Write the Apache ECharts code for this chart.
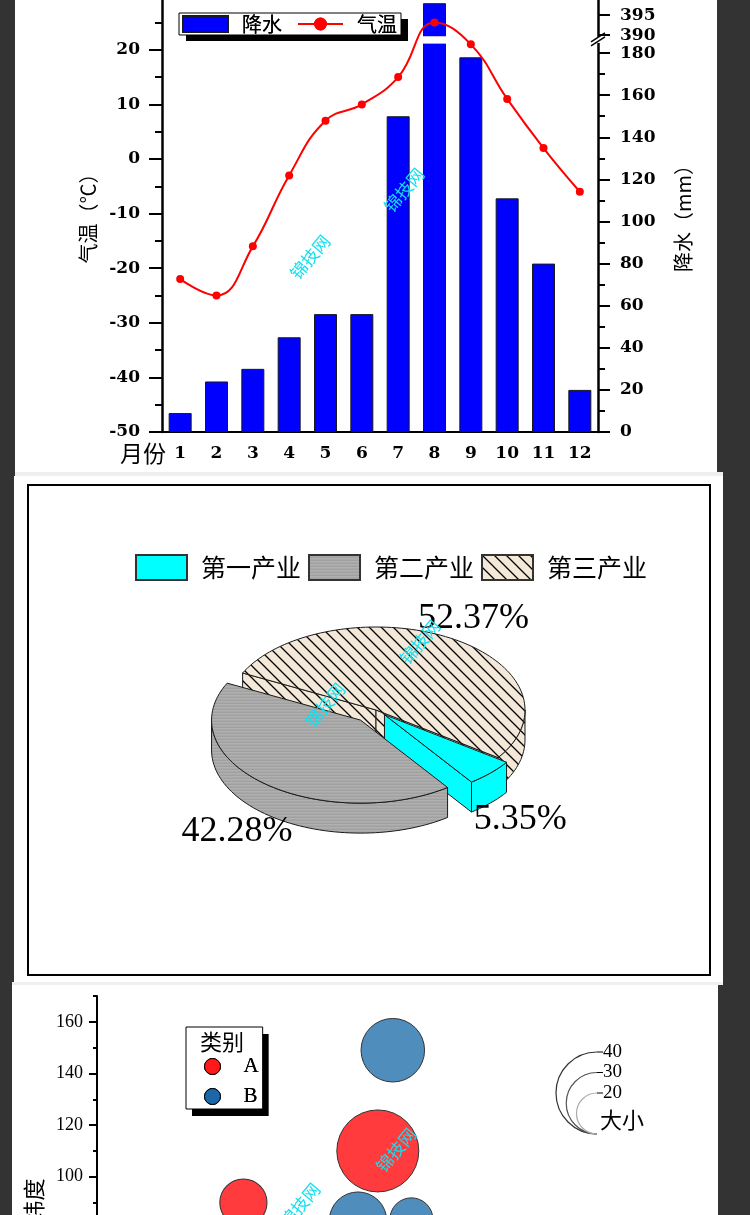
<!DOCTYPE html>
<html>
<head>
<meta charset="utf-8">
<script src="https://cdn.jsdelivr.net/npm/echarts@6/dist/echarts.min.js"></script>
<style>
  html, body { margin: 0; padding: 0; }
  body { width: 750px; height: 1215px; background: #333; position: relative; overflow: hidden; }
  .panel { position: absolute; background: #fff; overflow: hidden; }
  .strip { position: absolute; background: #efefef; }
</style>
</head>
<body>
<div class="panel" style="left:15px;top:0;width:702px;height:472px">
  <div id="climate" style="position:absolute;left:0;top:-30px;width:702px;height:502px"></div>
</div>
<div class="strip" style="left:15px;top:472px;width:708px;height:4px"></div>
<div class="panel" style="left:14px;top:476px;width:709px;height:506px">
  <div id="industry" style="width:709px;height:506px"></div>
</div>
<div class="strip" style="left:12px;top:982px;width:711px;height:3px"></div>
<div class="panel" style="left:12px;top:985px;width:706px;height:230px">
  <div id="bubble" style="width:706px;height:230px"></div>
</div>
<script>
// ---- data ----
const months = ['1', '2', '3', '4', '5', '6', '7', '8', '9', '10', '11', '12'];
const precipitation = [9, 24, 30, 45, 56, 56, 150, 398, 178, 111, 80, 20];
const temperature = [-22, -25, -16, -3, 7, 10, 15, 25, 21, 11, 2, -6];
const precipTicksLow = [0, 20, 40, 60, 80, 100, 120, 140, 160, 180];
const precipTicksHigh = [390, 395, 400];

const industries = ['第一产业', '第二产业', '第三产业'];
const industryShare = [5.35, 42.28, 52.37];

const bubbleA = [[24.4, 90, 23], [46.8, 110, 40]];
const bubbleB = [[49.3, 149, 31], [43.5, 83, 28], [52.4, 83.5, 21]];
const sizeLegendValues = [40, 30, 20];
const latTicks = [0, 20, 40, 60, 80, 100, 120, 140, 160];

const CN = '"Noto Sans CJK SC", sans-serif';
const SERIF = '"Liberation Serif", serif';
const SERIF_B = '"DejaVu Serif", serif';

function watermark(x, y) {
  return {
    type: 'text', x: x, y: y, rotation: 50 * Math.PI / 180, z: 100,
    style: { text: '锦技网', font: '17px "Noto Sans CJK SC"', fill: '#10e0f0',
      align: 'center', verticalAlign: 'middle', textAlign: 'center', textVerticalAlign: 'middle' }
  };
}

// a legend box with a hard black shadow: one legend casts the shadow, a twin draws the border
function shadowedLegend(base, dx, dy) {
  return [
    Object.assign({}, base, { backgroundColor: '#fff', borderWidth: 0, shadowColor: '#000', shadowBlur: 0, shadowOffsetX: dx, shadowOffsetY: dy }),
    Object.assign({}, base, { backgroundColor: 'transparent', borderColor: '#000', borderWidth: 1 })
  ];
}

// ---- chart 1: climate ----
// broken right axis: values above the break are squeezed into a short segment
const BREAK_LOW = 180, BREAK_HIGH = 390, HIGH_BASE = 188.5, HIGH_SCALE = 1.9;
function toDisplay(v) { return v <= BREAK_LOW ? v : HIGH_BASE + (v - BREAK_HIGH) * HIGH_SCALE; }
function fromDisplay(d) { return d <= BREAK_LOW + 0.01 ? Math.round(d) : Math.round(BREAK_HIGH + (d - HIGH_BASE) / HIGH_SCALE); }
const precipMax = toDisplay(400);
const precipMajor = precipTicksLow.concat(precipTicksHigh).map(toDisplay);
const precipMinor = precipTicksLow.slice(1).map(v => v - 10);

const tickStyle = { color: '#000', width: 2 };
const boldLabel = { fontFamily: SERIF_B, fontWeight: 'bold', fontSize: 17, color: '#000' };

const climate = echarts.init(document.getElementById('climate'));
climate.setOption({
  animation: false,
  grid: { left: 147, right: 119, top: 25.2, bottom: 40, outerBoundsMode: 'none' },
  legend: shadowedLegend({
    data: [{ name: '降水', icon: 'rect' }, { name: '气温' }], left: 164, top: 43, itemWidth: 45, itemHeight: 16, itemGap: 15,
    padding: [1, 4, 1, 3],
    textStyle: { fontFamily: CN, fontSize: 20, color: '#000', padding: [0, 0, 0, 9] }
  }, 7, 6),
  xAxis: [
    {
      type: 'category', data: months, position: 'bottom',
      name: '月份', nameLocation: 'start', nameGap: -4, nameMoveOverlap: false,
      nameTextStyle: { fontFamily: CN, fontSize: 23, color: '#000', verticalAlign: 'top', padding: [10, 0, 0, 0] },
      axisLine: { onZero: false, lineStyle: { color: '#000', width: 2 } },
      axisTick: { alignWithLabel: true, length: 8, lineStyle: tickStyle },
      axisLabel: Object.assign({ margin: 13 }, boldLabel)
    },
    {
      type: 'category', data: months, position: 'bottom',
      axisLine: { show: false, onZero: false }, axisTick: { length: 4, lineStyle: tickStyle }, axisLabel: { show: false }
    }
  ],
  yAxis: [
    {
      type: 'value', min: -50, max: 30, interval: 10, position: 'left',
      name: '气温（℃）', nameLocation: 'middle', nameGap: 62, nameRotate: 90,
      nameTextStyle: { fontFamily: CN, fontSize: 20, color: '#000' },
      axisLine: { show: true, lineStyle: { color: '#000', width: 2.5 } },
      axisTick: { show: true, length: 13, lineStyle: tickStyle },
      minorTick: { show: true, splitNumber: 2, length: 7, lineStyle: tickStyle },
      axisLabel: Object.assign({ margin: 22 }, boldLabel),
      splitLine: { show: false }
    },
    {
      type: 'value', min: 0, max: precipMax, position: 'right',
      name: '降水（mm）', nameLocation: 'middle', nameGap: 75, nameRotate: 90,
      nameTextStyle: { fontFamily: CN, fontSize: 20, color: '#000' },
      axisLine: { show: true, lineStyle: { color: '#000', width: 2.5 } },
      axisTick: { show: true, customValues: precipMajor, length: 12, lineStyle: tickStyle },
      axisLabel: Object.assign({ margin: 22, customValues: precipMajor, formatter: v => String(fromDisplay(v)) }, boldLabel),
      splitLine: { show: false }
    },
    {
      type: 'value', min: 0, max: precipMax, position: 'right',
      axisLine: { show: false },
      axisTick: { show: true, customValues: precipMinor, length: 7, lineStyle: tickStyle },
      axisLabel: { show: false }, splitLine: { show: false }
    }
  ],
  series: [
    {
      name: '降水', type: 'bar', xAxisIndex: 0, yAxisIndex: 1, barWidth: 23, z: 2,
      data: precipitation.map(toDisplay),
      itemStyle: { color: '#0000ff', borderColor: '#1a1a1a', borderWidth: 1 }
    },
    {
      name: '气温', type: 'line', xAxisIndex: 0, yAxisIndex: 0, z: 5,
      data: temperature, smooth: 0.45, symbol: 'circle', symbolSize: 8,
      lineStyle: { color: '#ff0000', width: 2 }, itemStyle: { color: '#ff0000' }
    }
  ]
});

// break decorations from the axis scale
const axisRightX = 702 - 119;
const yGapTop = climate.convertToPixel({ yAxisIndex: 1 }, HIGH_BASE - 0.5);
const yGapBot = climate.convertToPixel({ yAxisIndex: 1 }, BREAK_LOW + 4.5);
const yMid = (yGapTop + yGapBot) / 2;
const climateGraphics = [watermark(295, 287), watermark(389, 220)];
precipitation.forEach((v, i) => {
  if (v > BREAK_HIGH) {
    const xc = climate.convertToPixel({ xAxisIndex: 0 }, months[i]);
    climateGraphics.push({ type: 'rect', z: 3, shape: { x: xc - 13, y: yGapTop, width: 26, height: yGapBot - yGapTop }, style: { fill: '#fff' } });
  }
});
climateGraphics.push(
  { type: 'rect', z: 10, shape: { x: axisRightX - 3, y: yMid - 3, width: 6, height: 6 }, style: { fill: '#fff' } },
  { type: 'line', z: 11, shape: { x1: axisRightX - 7, y1: yMid + 6, x2: axisRightX + 7, y2: yMid - 3 }, style: { stroke: '#000', lineWidth: 1.5 } },
  { type: 'line', z: 11, shape: { x1: axisRightX - 7, y1: yMid + 2, x2: axisRightX + 7, y2: yMid - 7 }, style: { stroke: '#000', lineWidth: 1.5 } }
);
climate.setOption({ graphic: { elements: climateGraphics } });

// ---- chart 2: industry 3D pie ----
function hatchPattern() {
  const s = 12, c = document.createElement('canvas');
  c.width = s; c.height = s;
  const g = c.getContext('2d');
  g.fillStyle = '#f4e9d8'; g.fillRect(0, 0, s, s);
  g.strokeStyle = '#000'; g.lineWidth = 1.3;
  g.beginPath();
  g.moveTo(-2, -2); g.lineTo(s + 2, s + 2);
  g.moveTo(-2, s - 2); g.lineTo(2, s + 2);
  g.moveTo(s - 2, -2); g.lineTo(s + 2, 2);
  g.stroke();
  return { image: c, repeat: 'repeat' };
}
function grayPattern() {
  const c = document.createElement('canvas');
  c.width = 4; c.height = 3;
  const g = c.getContext('2d');
  ['#b0b0b0', '#a8a8a8', '#a0a0a0'].forEach((col, r) => { g.fillStyle = col; g.fillRect(0, r, 4, 1); });
  return { image: c, repeat: 'repeat' };
}
const pieFills = ['#00ffff', grayPattern(), hatchPattern()];
const PIE = { cx: 362, cy: 234, rx: 149, ry: 83, depth: 30, startAngle: -35, explode: [0.08, 0.16, 0], labelK: 1.28 };

const shareTotal = industryShare.reduce((a, b) => a + b, 0);
let acc = 0;
const slices = industryShare.map(v => {
  const a0 = PIE.startAngle - acc / shareTotal * 360;
  acc += v;
  return { a0: a0, a1: PIE.startAngle - acc / shareTotal * 360 };
});
const rad = a => a * Math.PI / 180;

function renderSlice(i) {
  const s = slices[i];
  const mid = rad((s.a0 + s.a1) / 2);
  const ex = PIE.explode[i];
  const cx = PIE.cx + ex * PIE.rx * Math.cos(mid);
  const cy = PIE.cy - ex * PIE.ry * Math.sin(mid);
  const pt = (a, dy) => [cx + PIE.rx * Math.cos(rad(a)), cy - PIE.ry * Math.sin(rad(a)) + dy];
  const arc = (from, to, dy) => {
    const n = Math.max(2, Math.ceil(Math.abs(to - from) / 2));
    const out = [];
    for (let k = 0; k <= n; k++) out.push(pt(from + (to - from) * k / n, dy));
    return out;
  };
  const st = () => ({ fill: pieFills[i], stroke: '#1a1a1a', lineWidth: 1 });
  const face = a => ({ type: 'polygon', shape: { points: [[cx, cy], pt(a, 0), pt(a, PIE.depth), [cx, cy + PIE.depth]] }, style: st() });
  const children = [];
  if (Math.cos(rad(s.a0)) < 0) children.push(face(s.a0));
  if (Math.cos(rad(s.a1)) > 0) children.push(face(s.a1));
  for (let k = -2; k <= 1; k++) {
    const lo = Math.max(s.a1, -180 + 360 * k), hi = Math.min(s.a0, 360 * k);
    if (lo < hi) children.push({ type: 'polygon', shape: { points: arc(lo, hi, 0).concat(arc(hi, lo, PIE.depth)) }, style: st() });
  }
  children.push({ type: 'polygon', shape: { points: [[cx, cy]].concat(arc(s.a1, s.a0, 0)) }, style: st() });
  const dy = Math.sin(mid) < 0 ? PIE.depth : 0;
  children.push({
    type: 'text',
    style: {
      text: industryShare[i].toFixed(2) + '%',
      x: cx + PIE.labelK * PIE.rx * Math.cos(mid), y: cy - PIE.labelK * PIE.ry * Math.sin(mid) + dy,
      font: '36px "Liberation Serif"', fill: '#000',
      align: 'center', verticalAlign: 'middle', textAlign: 'center', textVerticalAlign: 'middle'
    }
  });
  return { type: 'group', children: children };
}

// draw back slices first
const drawOrder = industryShare.map((v, i) => i)
  .sort((a, b) => Math.sin(rad((slices[b].a0 + slices[b].a1) / 2)) - Math.sin(rad((slices[a].a0 + slices[a].a1) / 2)));

const industry = echarts.init(document.getElementById('industry'));
industry.setOption({
  animation: false,
  legend: {
    data: industries, left: 116, top: 73, itemWidth: 51, itemHeight: 25, itemGap: 7, icon: 'rect',
    textStyle: { fontFamily: CN, fontSize: 25, color: '#000', padding: [0, 0, 0, 9] }
  },
  graphic: {
    elements: [
      { type: 'rect', shape: { x: 14, y: 9, width: 682, height: 490 }, style: { fill: null, stroke: '#000', lineWidth: 2 } },
      watermark(406, 166), watermark(311, 229)
    ]
  },
  series: drawOrder.map((i, k) => ({
    type: 'custom', name: industries[i], coordinateSystem: 'none', z: 2 + k,
    itemStyle: { color: pieFills[i], borderColor: '#333', borderWidth: 1 },
    data: [[industryShare[i]]],
    renderItem: () => renderSlice(i)
  }))
});

// ---- chart 3: bubbles ----
const SIZE_K = 2.05;
const bubble = echarts.init(document.getElementById('bubble'));
const sizeLegend = { x: 585, bottom: 149 };
const bubbleGraphics = [
  watermark(384, 165), watermark(288, 220),
  { type: 'text', z: 100, x: 210, y: 57, style: { text: '类别', font: '22px "Noto Sans CJK SC"', fill: '#000', align: 'center', verticalAlign: 'middle', textAlign: 'center', textVerticalAlign: 'middle' } },
  { type: 'text', z: 100, x: sizeLegend.x + 3, y: 135, style: { text: '大小', font: '22px "Noto Sans CJK SC"', fill: '#000', align: 'left', verticalAlign: 'middle', textAlign: 'left', textVerticalAlign: 'middle' } }
];
const arcColors = ['#333', '#555', '#aaa'];
sizeLegendValues.forEach((v, k) => {
  const r = v * SIZE_K / 2;
  const top = sizeLegend.bottom - 2 * r;
  bubbleGraphics.push(
    { type: 'arc', shape: { cx: sizeLegend.x, cy: sizeLegend.bottom - r, r: r, startAngle: -Math.PI / 2, endAngle: Math.PI / 2, clockwise: false }, style: { stroke: arcColors[k], fill: null, lineWidth: 1.2 } },
    { type: 'line', shape: { x1: sizeLegend.x, y1: top, x2: sizeLegend.x + 6, y2: top }, style: { stroke: '#000', lineWidth: 1 } },
    { type: 'text', x: sizeLegend.x + 6, y: top, style: { text: String(v), font: '19px "Liberation Serif"', fill: '#000', align: 'left', verticalAlign: 'middle', textAlign: 'left', textVerticalAlign: 'middle' } }
  );
});

bubble.setOption({
  animation: false,
  grid: { left: 85, top: 11, width: 600, height: 439, outerBoundsMode: 'none' },
  legend: shadowedLegend({
    data: [
      { name: 'A', itemStyle: { color: '#ff1a1a', borderColor: '#000', borderWidth: 1 } },
      { name: 'B', itemStyle: { color: '#1c67a8', borderColor: '#000', borderWidth: 1 } }
    ],
    orient: 'vertical', left: 174, top: 42, padding: [29, 4, 2, 18], itemGap: 9,
    itemWidth: 16, itemHeight: 16, icon: 'circle',
    textStyle: { fontFamily: SERIF, fontSize: 21, color: '#000', padding: [0, 0, 0, 18] }
  }, 6, 7),
  xAxis: { type: 'value', min: 0, max: 100, axisLine: { lineStyle: { color: '#000', width: 2 } }, splitLine: { show: false } },
  yAxis: [
    {
      type: 'value', min: 0, max: 170, position: 'left',
      name: '纬度', nameLocation: 'middle', nameGap: 48, nameRotate: 90,
      nameTextStyle: { fontFamily: CN, fontSize: 22, color: '#000', padding: [0, 0, 0, 30] },
      axisLine: { show: true, lineStyle: { color: '#000', width: 2 } },
      axisTick: { show: true, customValues: latTicks, length: 8, lineStyle: tickStyle },
      axisLabel: { customValues: latTicks, fontFamily: SERIF, fontSize: 18, color: '#000', margin: 14 },
      splitLine: { show: false }
    },
    {
      type: 'value', min: 0, max: 170, position: 'left',
      axisLine: { show: false },
      axisTick: { show: true, customValues: latTicks.map(v => v + 10), length: 4, lineStyle: tickStyle },
      axisLabel: { show: false }, splitLine: { show: false }
    }
  ],
  graphic: { elements: bubbleGraphics },
  series: [
    {
      name: 'A', type: 'scatter', data: bubbleA, symbolSize: d => d[2] * SIZE_K,
      itemStyle: { color: '#ff3b3d', borderColor: '#333', borderWidth: 1, opacity: 1 }
    },
    {
      name: 'B', type: 'scatter', data: bubbleB, symbolSize: d => d[2] * SIZE_K,
      itemStyle: { color: '#4f8dbd', borderColor: '#333', borderWidth: 1, opacity: 1 }
    }
  ]
});
</script>
</body>
</html>
